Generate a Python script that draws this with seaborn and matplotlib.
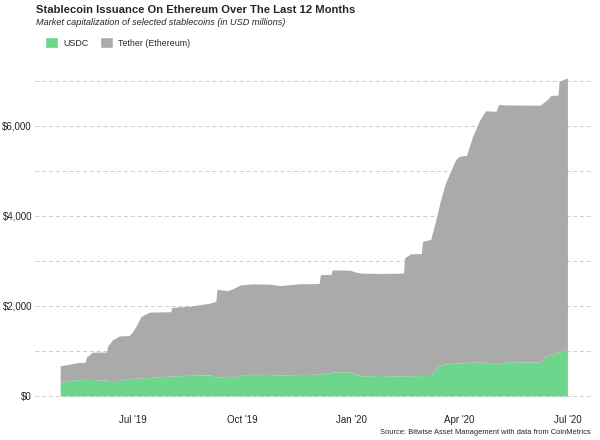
import pandas as pd
import seaborn as sns
import matplotlib.pyplot as plt
import matplotlib.dates as mdates
from matplotlib.patches import Patch
from matplotlib.ticker import FuncFormatter, MultipleLocator

# values (USD millions)
dates = [
    "2019-05-01", "2019-05-08", "2019-05-16", "2019-05-22", "2019-05-23",
    "2019-05-28", "2019-06-09", "2019-06-10", "2019-06-14", "2019-06-20",
    "2019-06-28", "2019-07-01", "2019-07-04", "2019-07-08", "2019-07-15",
    "2019-08-02", "2019-08-03", "2019-08-20", "2019-09-04", "2019-09-09",
    "2019-09-10", "2019-09-19", "2019-09-24", "2019-09-30", "2019-10-11",
    "2019-10-25", "2019-11-02", "2019-11-19", "2019-12-05", "2019-12-06",
    "2019-12-15", "2019-12-16", "2019-12-31", "2020-01-05", "2020-01-10",
    "2020-01-26", "2020-02-09", "2020-02-14", "2020-02-15", "2020-02-20",
    "2020-02-29", "2020-03-01", "2020-03-08", "2020-03-14", "2020-03-16",
    "2020-03-20", "2020-03-22", "2020-03-29", "2020-04-01", "2020-04-07",
    "2020-04-12", "2020-04-18", "2020-04-23", "2020-05-02", "2020-05-04",
    "2020-05-11", "2020-06-08", "2020-06-14", "2020-06-17", "2020-06-23",
    "2020-06-24", "2020-07-01",
]
usdc = [
    296, 340, 365, 370, 370, 365, 350, 345, 340, 345,
    385, 390, 395, 400, 410, 444, 444, 460, 467, 440,
    430, 407, 430, 470, 482, 475, 467, 475, 482, 485,
    520, 530, 540, 480, 444, 455, 444, 450, 450, 450,
    452, 452, 455, 652, 690, 711, 711, 730, 735, 745,
    750, 763, 740, 711, 720, 763, 748, 911, 930, 960,
    980, 1052,
]
total = [
    670, 700, 740, 750, 860, 970, 975, 1110, 1245, 1333,
    1340, 1430, 1555, 1763, 1860, 1870, 1963, 2000, 2060, 2100,
    2370, 2335, 2390, 2467, 2490, 2480, 2450, 2490, 2495, 2690,
    2700, 2800, 2790, 2750, 2725, 2720, 2725, 2730, 3070, 3155,
    3160, 3430, 3480, 4100, 4330, 4700, 4830, 5250, 5320, 5340,
    5750, 6120, 6330, 6320, 6470, 6460, 6455, 6580, 6670, 6680,
    6985, 7060,
]

df = pd.DataFrame({"date": pd.to_datetime(dates), "usdc": usdc,
                   "total": total})
df["tether"] = df["total"] - df["usdc"]

GREEN = "#6dd68c"
GRAY = "#aaaaaa"

sns.set_theme(style="white")
plt.rcParams["font.family"] = ["Liberation Sans", "DejaVu Sans"]

fig = plt.figure(figsize=(6, 4.4), dpi=100)
ax = fig.add_axes([0.058, 0.064, 0.93, 0.795])

ax.stackplot(df["date"], df["usdc"], df["tether"],
             colors=[GREEN, GRAY], linewidth=0)

# ggplot-like expansion
span = df["date"].max() - df["date"].min()
ax.set_xlim(df["date"].min() - span * 0.05, df["date"].max() + span * 0.05)
ax.set_ylim(-353, 7413)

ax.yaxis.set_major_locator(MultipleLocator(2000))
ax.yaxis.set_minor_locator(MultipleLocator(1000))
ax.yaxis.set_major_formatter(FuncFormatter(lambda v, p: f"${v:,.0f}"))
ax.grid(axis="y", which="both", color="#cccccc", linestyle=(0, (4, 3)),
        linewidth=0.7)
ax.set_axisbelow(True)

ticks = pd.to_datetime(["2019-07-01", "2019-10-01", "2020-01-01",
                        "2020-04-01", "2020-07-01"])
ax.set_xticks(ticks)
ax.xaxis.set_major_formatter(mdates.DateFormatter("%b '%y"))
ax.tick_params(axis="both", labelsize=7, length=0, colors="#222222")
ax.tick_params(axis="x", pad=2)
ax.tick_params(axis="y", pad=2)
sns.despine(ax=ax, left=True, bottom=True)
ax.set_xlabel("")
ax.set_ylabel("")

fig.text(0.06, 0.978, "Stablecoin Issuance On Ethereum Over The Last 12 Months",
         fontsize=8.1, fontweight="bold", va="center", ha="left")
fig.text(0.06, 0.948, "Market capitalization of selected stablecoins "
         "(in USD millions)", fontsize=6.6, style="italic", va="center",
         ha="left")

handles = [Patch(facecolor=GREEN, label="USDC"),
           Patch(facecolor=GRAY, label="Tether (Ethereum)")]
fig.legend(handles=handles, loc="center left", bbox_to_anchor=(0.075, 0.903),
           ncol=2, frameon=False, fontsize=6.4, handlelength=1.45,
           handleheight=1.45, handletextpad=0.6, columnspacing=1.3,
           borderaxespad=0, borderpad=0)

fig.text(0.985, 0.018, "Source: Bitwise Asset Management with data from "
         "CoinMetrics", fontsize=5.4, ha="right", va="center")

fig.savefig("out.png", dpi=100)
